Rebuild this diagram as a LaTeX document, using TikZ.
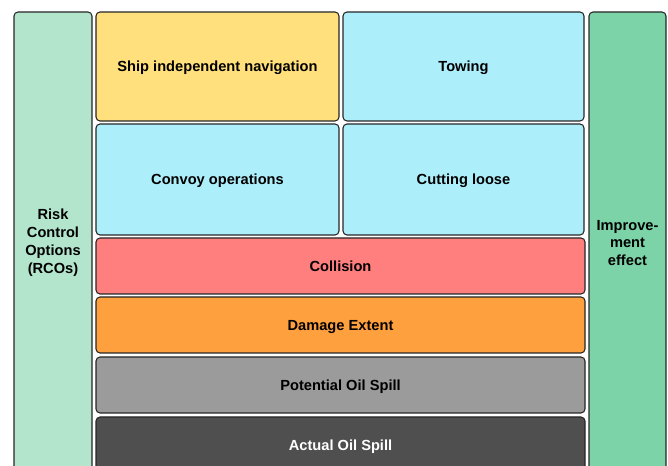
\documentclass[tikz,border=0pt]{standalone}
\usepackage{fontspec}
\setmainfont{Liberation Sans}
\definecolor{rcogreen}{HTML}{B2E5CC}
\definecolor{effgreen}{HTML}{7DD3A8}
\definecolor{navyellow}{HTML}{FFE07C}
\definecolor{opsblue}{HTML}{ADEEFB}
\definecolor{collred}{HTML}{FF7F7F}
\definecolor{dmgorange}{HTML}{FFA03F}
\definecolor{potgray}{HTML}{9B9B9B}
\definecolor{actgray}{HTML}{4F4F4F}
\tikzset{
  layer/.style={rectangle,rounded corners=0.12cm,draw=black!85,line width=0.9pt,
    font=\fontsize{12.5}{15.3}\selectfont\bfseries,align=center,inner sep=0pt},
  oneline/.style={layer,text height=9pt,text depth=0pt},
}
\begin{document}
\begin{tikzpicture}
\useasboundingbox (0,0) rectangle (20.04,13.98);
\clip (0,0) rectangle (20.04,13.98);
% side bars
\node[layer,fill=rcogreen,minimum width=2.34 cm,minimum height=13.86 cm] (RCO) at (1.59,6.69) {Risk\\Control\\Options\\(RCOs)};
\node[layer,fill=effgreen,minimum width=2.31 cm,minimum height=13.86 cm] (IE) at (18.825,6.69) {Improve-\\ment\\effect};
% risk control options
\node[oneline,fill=navyellow,minimum width=7.29 cm,minimum height=3.27 cm] (SIN) at (6.525,11.985) {Ship independent navigation};
\node[oneline,fill=opsblue,minimum width=7.23 cm,minimum height=3.27 cm] (TOW) at (13.905,11.985) {Towing};
\node[oneline,fill=opsblue,minimum width=7.29 cm,minimum height=3.33 cm] (CON) at (6.525,8.595) {Convoy operations};
\node[oneline,fill=opsblue,minimum width=7.23 cm,minimum height=3.33 cm] (CUT) at (13.905,8.595) {Cutting loose};
% accident chain
\node[oneline,fill=collred,minimum width=14.67 cm,minimum height=1.68 cm] (COL) at (10.215,6.0) {Collision};
\node[oneline,fill=dmgorange,minimum width=14.67 cm,minimum height=1.68 cm] (DMG) at (10.215,4.23) {Damage Extent};
\node[oneline,fill=potgray,minimum width=14.67 cm,minimum height=1.68 cm] (POT) at (10.215,2.43) {Potential Oil Spill};
\node[oneline,fill=actgray,text=white,minimum width=14.67 cm,minimum height=1.68 cm] (ACT) at (10.215,0.63) {Actual Oil Spill};
\end{tikzpicture}
\end{document}
